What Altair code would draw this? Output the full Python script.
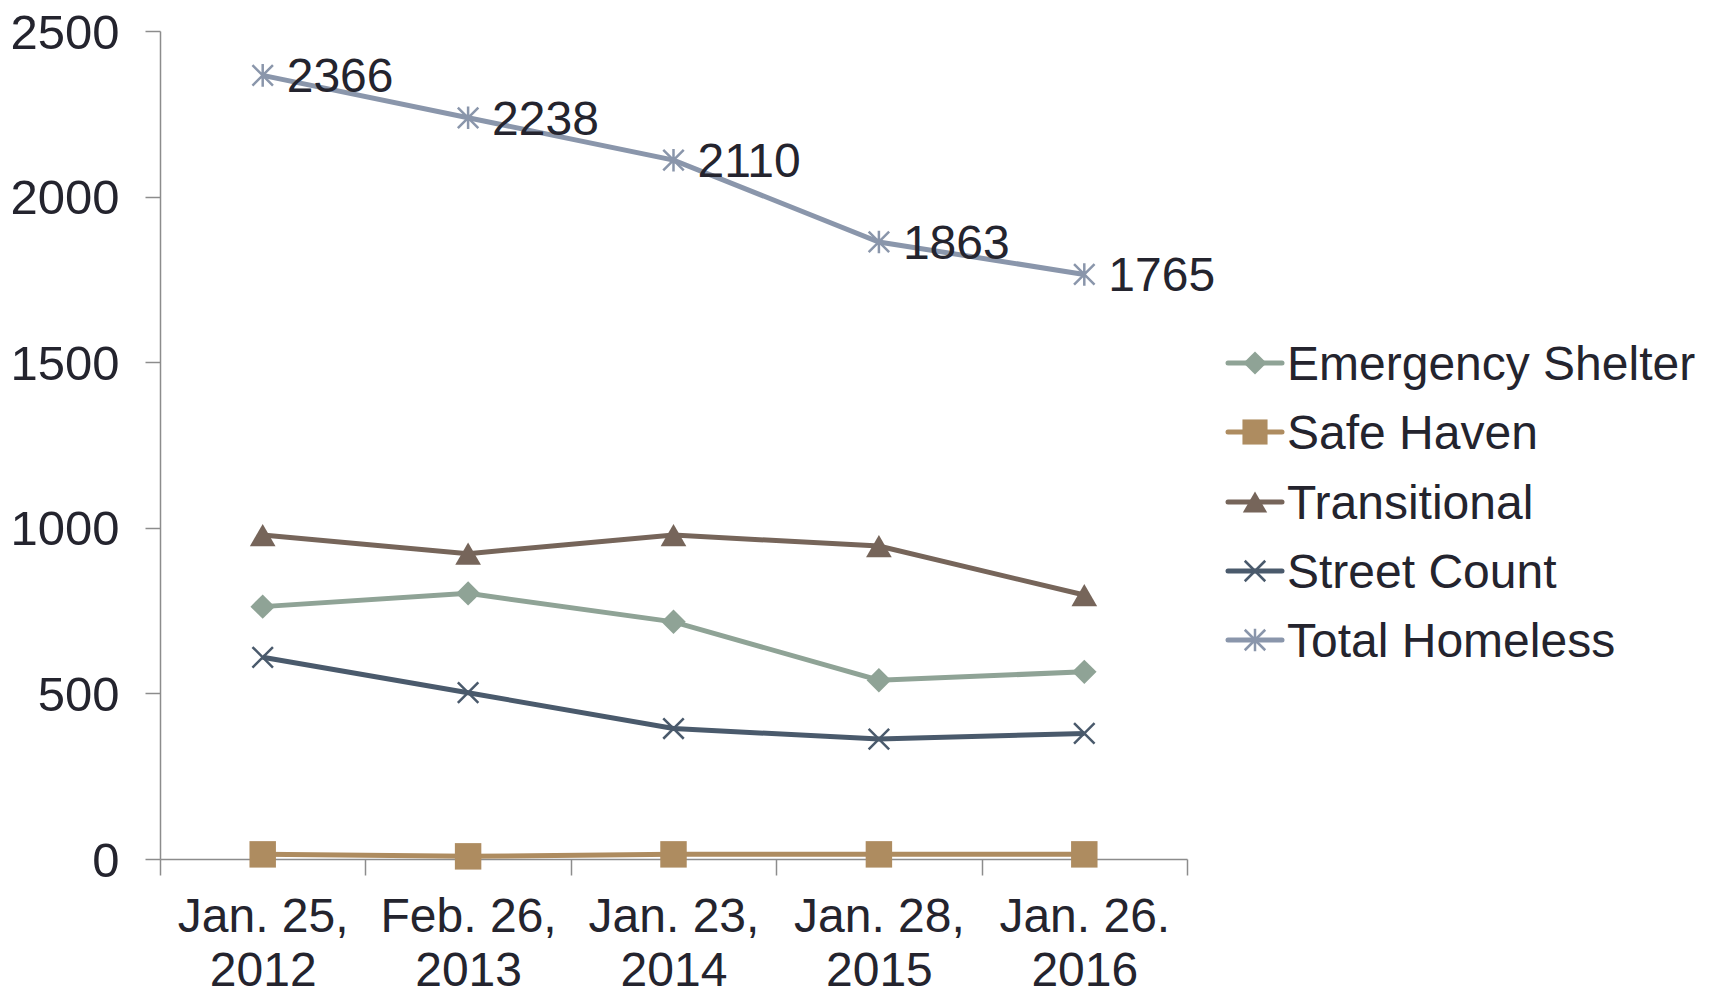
import altair as alt
import pandas as pd

dates = ["Jan. 25, 2012", "Feb. 26, 2013", "Jan. 23, 2014", "Jan. 28, 2015", "Jan. 26. 2016"]
series = ["Emergency Shelter", "Safe Haven", "Transitional", "Street Count", "Total Homeless"]

emergency_shelter = [762, 802, 716, 540, 565]
safe_haven = [14, 8, 14, 14, 14]
transitional = [978, 922, 978, 945, 797]
street_count = [609, 502, 394, 362, 379]
total_homeless = [2366, 2238, 2110, 1863, 1765]

y_ticks = [0, 500, 1000, 1500, 2000, 2500]

colors = ["#8FA396", "#AE8C60", "#76655A", "#4A5A6C", "#8A96AB"]
shapes = ["diamond", "square", "triangle-up",
          "M-1,-1L1,1M-1,1L1,-1",
          "M-1,-1L1,1M-1,1L1,-1M0,-1.1L0,1.1"]
sizes = [600, 700, 660, 420, 420]
filled = [True, True, True, False, False]

values = [emergency_shelter, safe_haven, transitional, street_count, total_homeless]
rows = []
for s, vals in zip(series, values):
    for d, v in zip(dates, vals):
        rows.append({"date": d, "series": s, "value": v})
df = pd.DataFrame(rows)
legend_df = pd.DataFrame({"series": series})

TEXT = "#24242E"
AXIS = "#8C8C8C"
FONT = "Liberation Sans"

x_enc = alt.X(
    "date:N", sort=dates, bandPosition=0.5,
    scale=alt.Scale(type="band", domain=dates, paddingInner=0, paddingOuter=0),
    axis=alt.Axis(
        title=None, labelAngle=0, tickBand="extent", tickSize=16, tickWidth=1.5,
        tickColor=AXIS, domainColor=AXIS, domainWidth=1.5, grid=False,
        labelFont=FONT, labelFontSize=48, labelColor=TEXT, labelPadding=18,
        labelLineHeight=54,
        labelExpr="[slice(datum.label, 0, 8), slice(datum.label, 9)]",
    ),
)
y_enc = alt.Y(
    "value:Q",
    scale=alt.Scale(domain=[0, 2500], nice=False, zero=True),
    axis=alt.Axis(
        title=None, values=y_ticks, format="d", tickSize=15, tickWidth=1.5,
        tickColor=AXIS, domainColor=AXIS, domainWidth=1.5, grid=False,
        labelFont=FONT, labelFontSize=49, labelColor=TEXT, labelPadding=26,
        labelOffset=2,
    ),
)

base = alt.Chart(df)
layers = []
for i, s in enumerate(series):
    sub = base.transform_filter(alt.datum.series == s)
    layers.append(sub.mark_line(color=colors[i], strokeWidth=5).encode(x=x_enc, y=y_enc))
for i, s in enumerate(series):
    sub = base.transform_filter(alt.datum.series == s)
    if filled[i]:
        m = sub.mark_point(shape=shapes[i], size=sizes[i], filled=True, opacity=1,
                           color=colors[i], strokeWidth=0)
    else:
        m = sub.mark_point(shape=shapes[i], size=sizes[i], filled=False, opacity=1,
                           color=colors[i], strokeWidth=2.5)
    layers.append(m.encode(x=x_enc, y=y_enc))

labels = base.transform_filter(alt.datum.series == "Total Homeless").mark_text(
    align="left", baseline="middle", dx=24, dy=3, fontSize=48, font=FONT, color=TEXT
).encode(x=x_enc, y=y_enc, text=alt.Text("value:Q"))
layers.append(labels)

# legend (drawn manually: line + marker + label)
leg_rows = [332, 401, 471, 540, 609]
leg_base = alt.Chart(legend_df)
for i, s in enumerate(series):
    sub = leg_base.transform_filter(alt.datum.series == s)
    layers.append(sub.mark_rule(color=colors[i], strokeWidth=5, strokeCap="round").encode(
        x=alt.value(1068), x2=alt.value(1122), y=alt.value(leg_rows[i])))
    if filled[i]:
        m = sub.mark_point(shape=shapes[i], size=sizes[i] * 0.9, filled=True, opacity=1,
                           color=colors[i], strokeWidth=0)
    else:
        m = sub.mark_point(shape=shapes[i], size=sizes[i], filled=False, opacity=1,
                           color=colors[i], strokeWidth=2.5)
    layers.append(m.encode(x=alt.value(1095), y=alt.value(leg_rows[i])))
    layers.append(sub.mark_text(align="left", baseline="middle", dy=3, fontSize=48,
                                font=FONT, color=TEXT).encode(
        x=alt.value(1127), y=alt.value(leg_rows[i]), text="series:N"))

chart = alt.layer(*layers).properties(
    width=1027, height=828,
    autosize=alt.AutoSizeParams(type="none"),
    padding={"left": 152, "top": 23, "right": 520, "bottom": 140},
).configure_view(stroke=None)

chart.save("out.html", embed_options={"renderer": "svg", "actions": False})
